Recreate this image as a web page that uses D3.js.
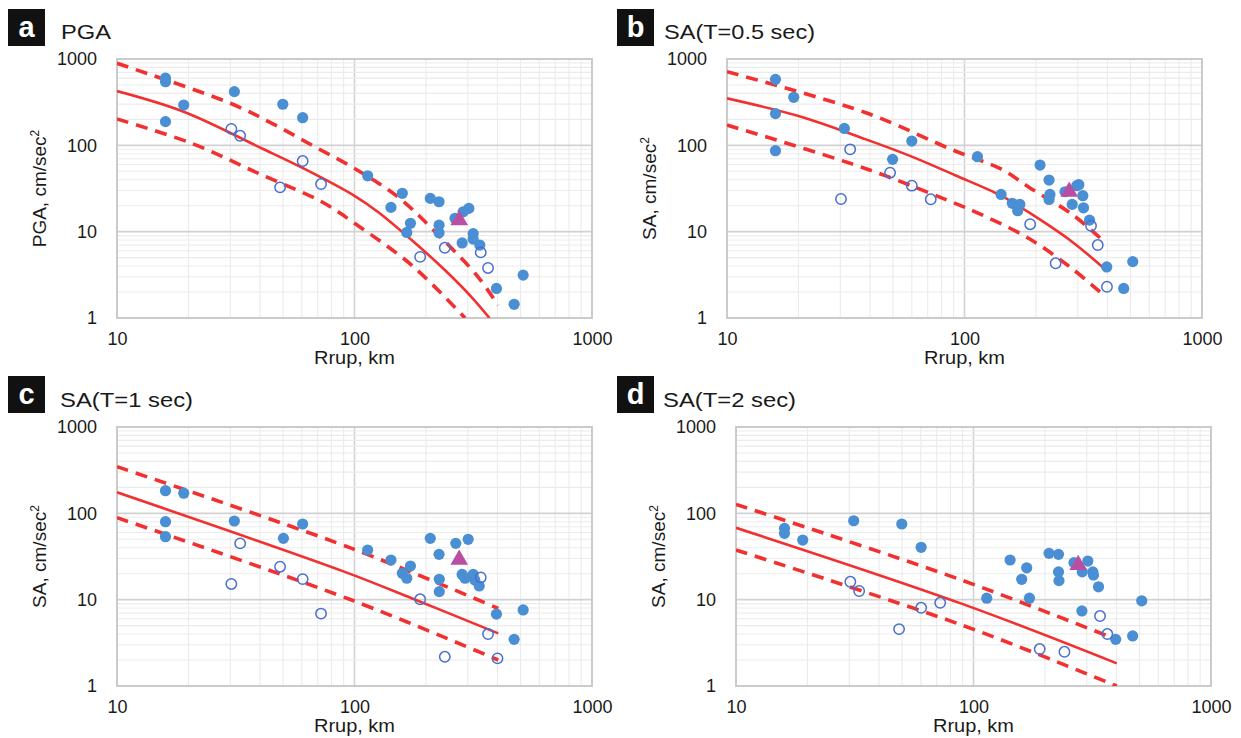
<!DOCTYPE html>
<html>
<head>
<meta charset="utf-8">
<script src="https://cdn.jsdelivr.net/npm/d3@7"></script>
<style>
  body { margin: 0; background: #fff; }
  svg { display: block; }
  text { font-family: "Liberation Sans", Arial, sans-serif; fill: #1a1a1a; }
</style>
</head>
<body>
<svg id="fig" width="1241" height="738"></svg>
<script>
// ---- Observed ground motions: [Rrup km, amplitude cm/s^2] ----
const pgaFilled = [[16,600],[16,545],[19.1,293],[16,188],[31.2,419],[49.9,299],[60.5,209],[113.6,44.4],[159,27.8],[142.4,19.1],[208.5,24.3],[227,22.2],[172,12.5],[166,9.8],[227,11.9],[227,9.7],[265,14.3],[287,17.0],[303,18.6],[284,7.4],[316,9.5],[316,8.2],[337,7.0],[396,2.2],[513,3.14],[470,1.44]];
const pgaOpen = [[30.3,155],[33,129],[60.5,65.8],[48.6,32.6],[72.3,35.6],[189,5.1],[240,6.5],[340,5.75],[365,3.8]];
const pgaEvent = [[276,13.6]];

const sa05Filled = [[16,581],[19.1,360],[16,233],[16,86.7],[31.2,157],[60,112],[49.8,68.8],[113.4,73.8],[142.6,27],[159,21.3],[171,20.7],[167.5,17.5],[208,59.1],[227,39.6],[229,27],[227,23.6],[265,29],[297,34.1],[303,35],[315,26.1],[284,20.7],[317,18.9],[336,13.6],[397,3.9],[511,4.5],[468,2.2]];
const sa05Open = [[33,89.9],[30.2,23.9],[48.6,48.2],[60,34.1],[72.1,23.7],[189,12.2],[242,4.3],[341,11.7],[364,7.0],[398,2.3]];
const sa05Event = [[276,29]];

const sa1Filled = [[16,183],[19.1,171],[16,80],[16,53.6],[31.2,81.5],[50.2,51.3],[60.5,75.2],[113.6,37.6],[142.4,28.8],[172,24.5],[159,20.2],[166,17.7],[208.5,51.3],[227,33.5],[227.5,17.2],[227.5,12.4],[267,44.9],[301,50],[284,19.6],[292,17.7],[316,19.6],[321,16.9],[335,14.4],[396,6.8],[513,7.6],[470,3.47]];
const sa1Open = [[33,44.9],[30.3,15.2],[48.6,24.1],[60.5,17.3],[72.3,6.9],[189,10.1],[340,18.1],[365,4.0],[240,2.18],[400,2.09]];
const sa1Event = [[276,29]];

const sa2Filled = [[16,67],[16,58.6],[19.1,49],[31.3,82],[49.9,75.2],[60.2,40.4],[113.7,10.4],[142.6,28.8],[167.5,23.4],[159.6,17.2],[172,10.4],[208,34.4],[228,33.5],[228,21],[229,16.6],[265,26.8],[303,28],[287,21],[318,21],[320,19.3],[336,14.1],[286,7.4],[511,9.7],[397,3.47],[468,3.8]];
const sa2Open = [[30.3,16.1],[33,12.6],[48.6,4.56],[60.2,8.05],[72.4,9.2],[190,2.68],[241.5,2.49],[341,6.46],[366,4.0]];
const sa2Event = [[276,25.2]];

// ---- Prediction curves: median and +/- one standard deviation ----
const pgaMedian = [[10,425],[19.1,245],[40.8,92],[61,54],[100,26],[126,16.8],[174,8.0],[240,3.6],[311,1.75],[370,1.0]];
const pgaUpper  = [[10,892],[30,307],[44.9,180],[66,100.8],[100,54],[153,25],[211,11],[331,3.0],[402,1.4]];
const pgaLower  = [[10,202],[20.7,105],[39.4,47.3],[72.8,22.2],[100,12.5],[174,4.1],[292,1.0]];

const sa05Median = [[10,350],[20,218],[38.2,118],[60,74],[91.3,45],[143,26],[186,16.8],[282.6,7.7],[385,3.8]];
const sa05Upper  = [[10,713],[38.2,240],[91.3,86],[143,53],[186,33],[282.6,16],[385,7.8]];
const sa05Lower  = [[10,172],[38.2,54],[91.3,21.3],[110.8,17],[186,8.4],[282.6,3.76],[385,1.85]];

const sa1Median = [[10,175],[91,21],[174,10.4],[403,4.07]];
const sa1Upper  = [[10,347],[97.3,39.3],[403,7.9]];
const sa1Lower  = [[10,89],[97.3,9.9],[403,2.0]];

const sa2Median = [[10,68],[89,9.0],[401,1.83]];
const sa2Upper  = [[10,127],[89,16.9],[401,3.45]];
const sa2Lower  = [[10,37.6],[89,5.1],[401,1.0]];

// ---- Axis ticks ----
const xTickLabels = [10, 100, 1000];
const yTickLabels = [1, 10, 100, 1000];

// ---- Panel layout ----
const panels = [
  { letter: "a", title: "PGA", titleW: 50, yTitle: "PGA, cm/sec", filled: pgaFilled, open: pgaOpen, event: pgaEvent,
    median: pgaMedian, upper: pgaUpper, lower: pgaLower,
    box: [8, 9], titleX: 61, titleY: 39, l: 117, r: 592, t: 59, b: 318 },
  { letter: "b", title: "SA(T=0.5 sec)", titleW: 151, yTitle: "SA, cm/sec", filled: sa05Filled, open: sa05Open, event: sa05Event,
    median: sa05Median, upper: sa05Upper, lower: sa05Lower,
    box: [617, 9], titleX: 664, titleY: 39, l: 727, r: 1202, t: 59, b: 318 },
  { letter: "c", title: "SA(T=1 sec)", titleW: 133, yTitle: "SA, cm/sec", filled: sa1Filled, open: sa1Open, event: sa1Event,
    median: sa1Median, upper: sa1Upper, lower: sa1Lower,
    box: [8, 376], titleX: 60, titleY: 407, l: 117, r: 592, t: 427, b: 686 },
  { letter: "d", title: "SA(T=2 sec)", titleW: 133, yTitle: "SA, cm/sec", filled: sa2Filled, open: sa2Open, event: sa2Event,
    median: sa2Median, upper: sa2Upper, lower: sa2Lower,
    box: [617, 376], titleX: 663, titleY: 407, l: 736, r: 1211, t: 427, b: 686 }
];

const svg = d3.select("#fig");
svg.append("rect").attr("width", 1241).attr("height", 738).attr("fill", "#fff");

const RED = "#f23030";
const FILL_BLUE = "#4a8fd4";
const OPEN_BLUE = "#4a6fcf";
const EVENT = "#b94ea3";

panels.forEach((p, i) => {
  const x = d3.scaleLog().domain([10, 1000]).range([p.l, p.r]);
  const y = d3.scaleLog().domain([1, 1000]).range([p.b, p.t]);
  const g = svg.append("g");
  const isMajor = v => Math.abs(Math.log10(v) - Math.round(Math.log10(v))) < 1e-9;

  // grid
  const grid = g.append("g");
  grid.selectAll("line.vx").data(x.ticks().filter(v => v > 10 && v < 1000)).join("line")
    .attr("x1", d => x(d)).attr("x2", d => x(d)).attr("y1", p.t).attr("y2", p.b)
    .attr("stroke", d => isMajor(d) ? "#d2d2d2" : "#ebebeb")
    .attr("stroke-width", d => isMajor(d) ? 1.6 : 1.1);
  grid.selectAll("line.hy").data(y.ticks().filter(v => v > 1 && v < 1000)).join("line")
    .attr("y1", d => y(d)).attr("y2", d => y(d)).attr("x1", p.l).attr("x2", p.r)
    .attr("stroke", d => isMajor(d) ? "#d2d2d2" : "#ebebeb")
    .attr("stroke-width", d => isMajor(d) ? 1.6 : 1.1);
  g.append("rect").attr("x", p.l).attr("y", p.t).attr("width", p.r - p.l).attr("height", p.b - p.t)
    .attr("fill", "none").attr("stroke", "#c6c6c6").attr("stroke-width", 1.8);

  // axes
  const xa = g.append("g").attr("transform", `translate(0,${p.b})`)
    .call(d3.axisBottom(x).tickValues(xTickLabels).tickFormat(d3.format("d")).tickSize(0).tickPadding(14));
  xa.select(".domain").remove();
  xa.selectAll("text").attr("font-size", 18).attr("fill", "#1a1a1a")
    .style("font-family", '"Liberation Sans", Arial, sans-serif');
  const ya = g.append("g").attr("transform", `translate(${p.l},0)`)
    .call(d3.axisLeft(y).tickValues(yTickLabels).tickFormat(d3.format("d")).tickSize(0).tickPadding(20));
  ya.select(".domain").remove();
  ya.selectAll("text").attr("font-size", 18).attr("fill", "#1a1a1a")
    .style("font-family", '"Liberation Sans", Arial, sans-serif');

  g.append("text").attr("x", (p.l + p.r) / 2).attr("y", p.b + 46)
    .attr("text-anchor", "middle").attr("font-size", 19)
    .attr("textLength", 81).attr("lengthAdjust", "spacingAndGlyphs").text("Rrup, km");

  const yt = g.append("text")
    .attr("transform", `translate(${p.l - 71},${(p.t + p.b) / 2}) rotate(-90)`)
    .attr("text-anchor", "middle").attr("font-size", 19);
  yt.append("tspan").text(p.yTitle);
  yt.append("tspan").attr("font-size", 12).attr("dy", -7).text("2");

  // panel letter and title
  g.append("rect").attr("x", p.box[0]).attr("y", p.box[1]).attr("width", 37).attr("height", 37).attr("fill", "#111");
  g.append("text").attr("x", p.box[0] + 18.5).attr("y", p.box[1] + 28)
    .attr("text-anchor", "middle").attr("font-size", 29).attr("font-weight", "bold")
    .style("fill", "#fff").text(p.letter);
  g.append("text").attr("x", p.titleX).attr("y", p.titleY).attr("font-size", 21)
    .attr("textLength", p.titleW).attr("lengthAdjust", "spacingAndGlyphs").text(p.title);

  // prediction curves
  const clipId = "clip" + i;
  svg.append("clipPath").attr("id", clipId).append("rect")
    .attr("x", p.l).attr("y", p.t).attr("width", p.r - p.l).attr("height", p.b - p.t);
  const line = d3.line().x(d => x(d[0])).y(d => y(d[1])).curve(d3.curveCatmullRom.alpha(0.5));
  const curves = g.append("g").attr("clip-path", `url(#${clipId})`);
  [p.upper, p.lower].forEach(c => curves.append("path").attr("d", line(c))
    .attr("fill", "none").attr("stroke", RED).attr("stroke-width", 3.6).attr("stroke-dasharray", "12,8"));
  curves.append("path").attr("d", line(p.median))
    .attr("fill", "none").attr("stroke", RED).attr("stroke-width", 2.6);

  // observations
  g.append("g").selectAll("circle").data(p.filled).join("circle")
    .attr("cx", d => x(d[0])).attr("cy", d => y(d[1])).attr("r", 5.6).attr("fill", FILL_BLUE);
  g.append("g").selectAll("circle").data(p.open).join("circle")
    .attr("cx", d => x(d[0])).attr("cy", d => y(d[1])).attr("r", 5.2)
    .attr("fill", "none").attr("stroke", OPEN_BLUE).attr("stroke-width", 1.5);
  g.append("g").selectAll("path").data(p.event).join("path")
    .attr("transform", d => `translate(${x(d[0])},${y(d[1])})`)
    .attr("d", d3.symbol(d3.symbolTriangle, 135)).attr("fill", EVENT);
});
</script>
</body>
</html>
